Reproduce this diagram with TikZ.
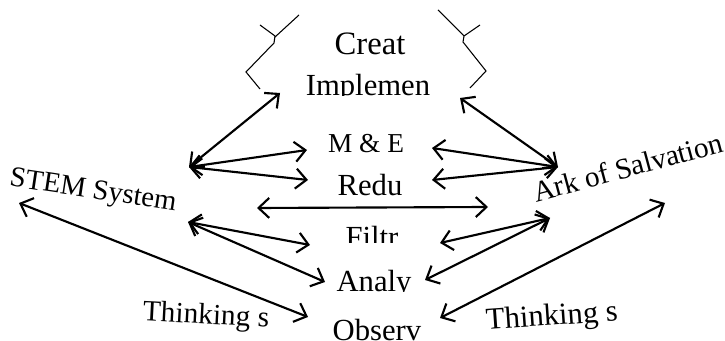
\documentclass[tikz,border=0pt]{standalone}
\usepackage{fontspec}
\setmainfont{Liberation Serif}
\usetikzlibrary{arrows.meta}

\begin{document}
\begin{tikzpicture}[x=0.75pt, y=-0.75pt,
  >={Straight Barb[length=8pt,width=15pt]},
  link/.style={<->, line width=1.6pt},
  word/.style={font=\fontsize{23}{26}\selectfont, inner sep=0pt, anchor=base},
  side/.style={font=\fontsize{21}{24}\selectfont, inner sep=0pt},
  brace/.style={line width=0.8pt}]
\useasboundingbox (0,0) rectangle (725,341);

% middle column
\node[word, font=\fontsize{24.5}{27}\selectfont] (creat) at (370,55) {Creat};
\begin{scope}
\clip (280,60) rectangle (460,96);
\node[word] (implem) at (368,96) {Implemen};
\end{scope}
\node[word, font=\fontsize{20.5}{24}\selectfont] (me) at (366,153) {M \& E};
\node[word] (redu) at (370,196) {Redu};
\begin{scope}
\clip (300,215) rectangle (450,243);
\node[word] (filtr) at (372,248) {Filtr};
\end{scope}
\begin{scope}
\clip (300,255) rectangle (450,292);
\node[word] (analy) at (374,292) {Analy};
\end{scope}
\node[word] (observ) at (377,341) {Observ};

% sides
\node[side, rotate=-8.6, font=\fontsize{21.5}{24}\selectfont] (stem) at (93,192) {STEM System};
\node[side, rotate=15, font=\fontsize{22}{24}\selectfont] (ark) at (628,167) {Ark of Salvation};
\node[side, rotate=-3, font=\fontsize{22}{24}\selectfont] (thinkL) at (206,317) {Thinking s};
\node[side, rotate=4, font=\fontsize{23}{26}\selectfont] (thinkR) at (552,318) {Thinking s};

% braces round the top
\draw[brace] (260,25) -- (275,36) -- (274,43) -- (246,72) -- (260,89);
\draw[brace] (299,15) -- (275,37);
\draw[brace] (480,25) -- (464,36) -- (463,42) -- (486,71) -- (470,88);
\draw[brace] (438,10) -- (464,36);

% arrow ends
\coordinate (stemA) at (189,167);
\coordinate (stemB) at (188,222);
\coordinate (stemFar) at (19,203);
\coordinate (arkA) at (558,167);
\coordinate (arkB) at (550,218);
\coordinate (arkFar) at (665,203);
\coordinate (implemW) at (280,93);
\coordinate (implemE) at (460,98);
\coordinate (meW) at (307,150);
\coordinate (meE) at (432,148);
\coordinate (reduW) at (308,180);
\coordinate (reduE) at (432,180);
\coordinate (midW) at (257,208);
\coordinate (midE) at (488,207);
\coordinate (filtrW) at (310,245);
\coordinate (filtrE) at (440,243);
\coordinate (analyW) at (325,282);
\coordinate (analyE) at (425,280);
\coordinate (observW) at (308,317);
\coordinate (observE) at (440,318);

\draw[link] (stemA) -- (implemW);
\draw[link] (stemA) -- (meW);
\draw[link] (stemA) -- (reduW);
\draw[link] (arkA) -- (implemE);
\draw[link] (arkA) -- (meE);
\draw[link] (arkA) -- (reduE);
\draw[link] (midW) -- (midE);
\draw[link] (stemB) -- (filtrW);
\draw[link] (stemB) -- (analyW);
\draw[link] (arkB) -- (filtrE);
\draw[link] (arkB) -- (analyE);
\draw[link] (stemFar) -- (observW);
\draw[link] (observE) -- (arkFar);
\end{tikzpicture}
\end{document}
